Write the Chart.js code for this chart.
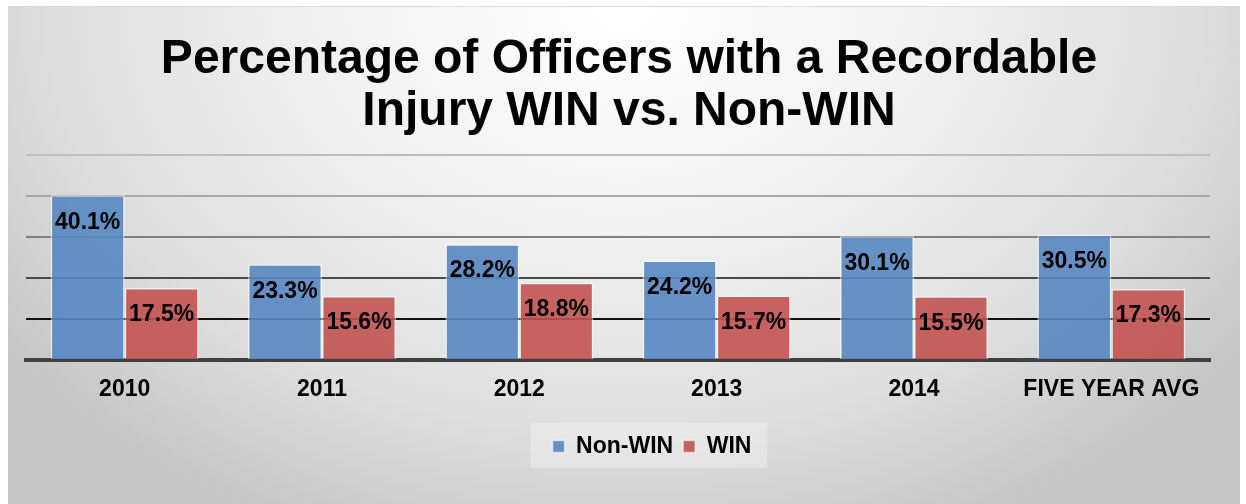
<!DOCTYPE html>
<html>
<head>
<meta charset="utf-8">
<script src="https://cdn.jsdelivr.net/npm/chart.js@4.4.1/dist/chart.umd.min.js"></script>
<style>
  html, body { margin: 0; padding: 0; background: #fff; }
  body { width: 1246px; height: 504px; position: relative; overflow: hidden; }
  #frame {
    position: absolute; left: 8px; top: 6px; width: 1232px; height: 498px;
    border-top: 1px solid #d8d8d8; box-sizing: border-box;
    background: radial-gradient(ellipse 62% 115% at 50% 0%, #ffffff 0%, #f3f3f3 35%, #dedede 75%, #c6c6c6 100%);
  }
  canvas { display: block; }
</style>
</head>
<body>
<div id="frame"><canvas id="chart" width="1232" height="497"></canvas></div>
<script>
// datos
const CATEGORIES = ['2010', '2011', '2012', '2013', '2014', 'FIVE YEAR AVG'];
const NON_WIN = [40.1, 23.3, 28.2, 24.2, 30.1, 30.5];
const WIN = [17.5, 15.6, 18.8, 15.7, 15.5, 17.3];
const TITLE_LINES = ['Percentage of Officers with a Recordable', 'Injury WIN vs. Non-WIN'];

const FONT = '"Liberation Sans", Arial, sans-serif';

// grid: más oscuro abajo, más claro arriba
const GRID_COLORS = { 0: 'rgba(0,0,0,0)', 10: '#111111', 20: '#4a4a4a', 30: '#808080', 40: '#a8a8a8', 50: '#bdbdbd' };

// desplazamientos horizontales (título y leyenda no están centrados en el área)
const TITLE_SHIFT = 11, LEGEND_SHIFT = 34;

/* etiquetas dentro de la barra, cerca del tope */
const barLabels = {
  id: 'barLabels',
  afterDatasetsDraw(chart) {
    const ctx = chart.ctx;
    ctx.save();
    ctx.font = 'bold 23px ' + FONT;
    ctx.fillStyle = '#000';
    ctx.textAlign = 'center';
    ctx.textBaseline = 'middle';
    chart.data.datasets.forEach((ds, i) => {
      chart.getDatasetMeta(i).data.forEach((bar, j) => {
        ctx.fillText(ds.data[j].toFixed(1) + '%', bar.x, bar.y + 27);
      });
    });
    ctx.restore();
  }
};

/* mover título y leyenda un poco a la derecha */
const shiftBoxes = {
  id: 'shiftBoxes',
  afterLayout(chart) {
    const t = chart.titleBlock;
    if (t) { t.left += TITLE_SHIFT; t.right += TITLE_SHIFT; }
    const lg = chart.legend;
    if (lg) {
      lg.left += LEGEND_SHIFT; lg.right += LEGEND_SHIFT;
      (lg.legendHitBoxes || []).forEach(b => { b.left += LEGEND_SHIFT; });
    }
  }
};

/* fondo claro detrás de la leyenda */
const legendBg = {
  id: 'legendBg',
  beforeDraw(chart) {
    const boxes = chart.legend && chart.legend.legendHitBoxes;
    if (!boxes || !boxes.length) return;
    const left = Math.min(...boxes.map(b => b.left));
    const right = Math.max(...boxes.map(b => b.left + b.width));
    const top = Math.min(...boxes.map(b => b.top));
    const bottom = Math.max(...boxes.map(b => b.top + b.height));
    const ctx = chart.ctx;
    ctx.save();
    ctx.fillStyle = 'rgba(255,255,255,0.3)';
    ctx.fillRect(left - 22, top - 12, right - left + 38, bottom - top + 22);
    ctx.restore();
  }
};

new Chart(document.getElementById('chart'), {
  type: 'bar',
  data: {
    labels: CATEGORIES,
    datasets: [
      {
        label: 'Non-WIN',
        data: NON_WIN,
        backgroundColor: 'rgba(87,135,194,0.9)',
        borderColor: 'rgba(255,255,255,0.55)',
        borderWidth: 1.5,
        categoryPercentage: 0.75,
        barPercentage: 1
      },
      {
        label: 'WIN',
        data: WIN,
        backgroundColor: 'rgba(194,84,81,0.9)',
        borderColor: 'rgba(255,255,255,0.55)',
        borderWidth: 1.5,
        categoryPercentage: 0.75,
        barPercentage: 1
      }
    ]
  },
  options: {
    responsive: false,
    animation: false,
    layout: { padding: { left: 18, right: 30, top: 0, bottom: 36 } },
    plugins: {
      title: {
        display: true,
        text: TITLE_LINES,
        color: '#000',
        font: { family: FONT, size: 48, weight: 'bold', lineHeight: 1.1 },
        padding: { top: 26, bottom: 16 }
      },
      legend: {
        position: 'bottom',
        labels: {
          color: '#000',
          boxWidth: 12,
          boxHeight: 12,
          padding: 10,
          font: { family: FONT, size: 23, weight: 'bold' }
        }
      },
      tooltip: { enabled: false }
    },
    scales: {
      x: {
        grid: { display: false, drawTicks: false },
        border: { color: '#404040', width: 4 },
        ticks: {
          color: '#000',
          padding: 16,
          font: { family: FONT, size: 23, weight: 'bold' }
        },
        afterFit(axis) { axis.height = 65; }
      },
      y: {
        min: 0,
        max: 50,
        ticks: { display: false, stepSize: 10 },
        border: { display: false },
        grid: {
          drawTicks: false,
          lineWidth: 2,
          color: c => GRID_COLORS[c.tick.value] || '#999'
        }
      }
    }
  },
  plugins: [barLabels, shiftBoxes, legendBg]
});
</script>
</body>
</html>
